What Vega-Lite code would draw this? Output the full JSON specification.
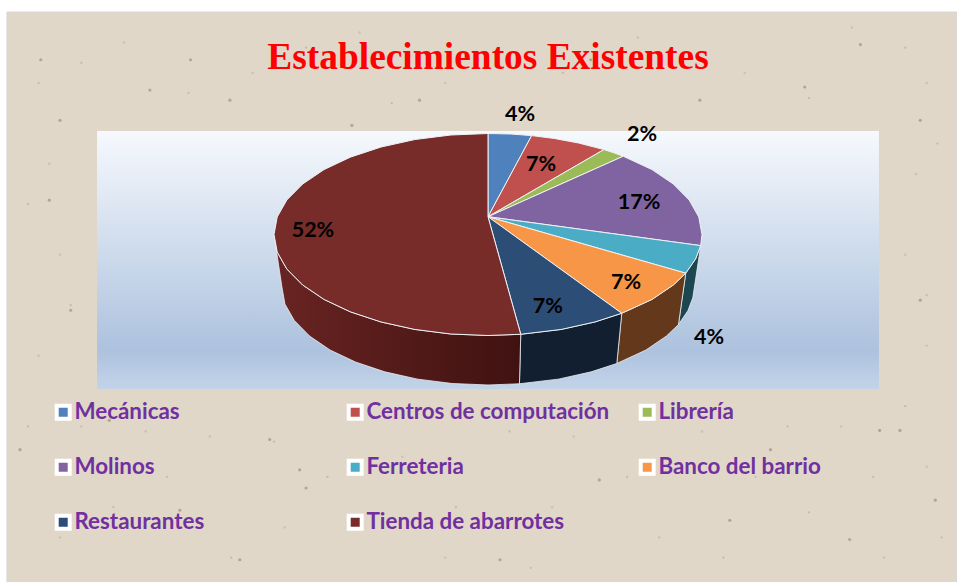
{
"$schema":"https://vega.github.io/schema/vega-lite/v6.json",
"width":957,"height":582,"padding":0,"autosize":{"type":"none"},"background":"#ffffff",
"title":{"text":"Establecimientos Existentes","font":"Liberation Serif","fontSize":37.4,"fontWeight":"bold","color":"#ff0000","anchor":"middle","dx":9.5,"dy":76,"offset":0},
"config":{"view":{"stroke":null}},
"datasets":{
"frame":[{"u":-224.8,"u2":219.16,"v":220.3,"v2":-344.06}],
"panel":[{"u":-182.7,"u2":182.7,"v":102.5,"v2":-153}],
"pale":[{"u":-210,"v":150},{"u":-170,"v":190},{"u":-110,"v":160},{"u":-60,"v":200},{"u":-20,"v":150},{"u":70,"v":195},{"u":120,"v":160},{"u":170,"v":205},{"u":205,"v":150},{"u":200,"v":60},{"u":195,"v":-20},{"u":205,"v":-110},{"u":-205,"v":70},{"u":-200,"v":-20},{"u":-210,"v":-120},{"u":-190,"v":-190},{"u":-150,"v":-240},{"u":-200,"v":-300},{"u":-95,"v":-290},{"u":-40,"v":-220},{"u":-20,"v":-320},{"u":40,"v":-200},{"u":80,"v":-300},{"u":125,"v":-240},{"u":165,"v":-190},{"u":185,"v":-320},{"u":205,"v":-230},{"u":-130,"v":-200},{"u":30,"v":-270},{"u":100,"v":-195}],
"shade":[{"u":-190,"v":170},{"u":-140,"v":140},{"u":-85,"v":185},{"u":-45,"v":130},{"u":35,"v":160},{"u":95,"v":175},{"u":150,"v":135},{"u":195,"v":185},{"u":210,"v":90},{"u":205,"v":-60},{"u":195,"v":-170},{"u":-215,"v":30},{"u":-195,"v":-70},{"u":-215,"v":-190},{"u":-175,"v":-270},{"u":-120,"v":-320},{"u":-75,"v":-240},{"u":-15,"v":-270},{"u":20,"v":-330},{"u":65,"v":-240},{"u":110,"v":-320},{"u":150,"v":-275},{"u":180,"v":-240},{"u":-160,"v":-195},{"u":-100,"v":-205},{"u":10,"v":-195},{"u":140,"v":-190},{"u":212,"v":-300}],
"specks":[{"u":148,"v":146},{"u":-158,"v":143},{"u":-63.6,"v":108},{"u":-209,"v":173},{"u":174,"v":188},{"u":202,"v":113},{"u":202,"v":-65},{"u":192.5,"v":-194},{"u":113,"v":-283},{"u":-88,"v":-233},{"u":-85,"v":-251},{"u":-116,"v":-322},{"u":-144,"v":-273},{"u":-177,"v":-184},{"u":-205,"v":34},{"u":-195,"v":-75},{"u":-200,"v":113},{"u":-120.6,"v":133},{"u":-32,"v":133},{"u":48,"v":173},{"u":99,"v":133},{"u":183,"v":-194},{"u":5.6,"v":-322},{"u":52,"v":-243},{"u":132,"v":-213},{"u":169,"v":-302},{"u":-102,"v":-203},{"u":-139,"v":173},{"u":-218.7,"v":-213},{"u":209,"v":-263}],
"walls":[
{"slice":"Ferreteria","i":0,"u":99.4,"v":-11},{"slice":"Ferreteria","i":1,"u":97,"v":-24.2},{"slice":"Ferreteria","i":2,"u":92.4,"v":-38.3},{"slice":"Ferreteria","i":3,"u":89,"v":-89.2},{"slice":"Ferreteria","i":4,"u":93.4,"v":-75.5},{"slice":"Ferreteria","i":5,"u":95.7,"v":-62.7},{"slice":"Ferreteria","i":6,"u":99.4,"v":-11},
{"slice":"Banco del barrio","i":0,"u":92.4,"v":-38.3},{"slice":"Banco del barrio","i":1,"u":86.6,"v":-50},{"slice":"Banco del barrio","i":2,"u":76.6,"v":-64.3},{"slice":"Banco del barrio","i":3,"u":62.5,"v":-78},{"slice":"Banco del barrio","i":4,"u":60.2,"v":-127.7},{"slice":"Banco del barrio","i":5,"u":73.8,"v":-114.4},{"slice":"Banco del barrio","i":6,"u":83.4,"v":-100.5},{"slice":"Banco del barrio","i":7,"u":89,"v":-89.2},{"slice":"Banco del barrio","i":8,"u":92.4,"v":-38.3},
{"slice":"Restaurantes","i":0,"u":62.5,"v":-78},{"slice":"Restaurantes","i":1,"u":50,"v":-86.6},{"slice":"Restaurantes","i":2,"u":34.2,"v":-94},{"slice":"Restaurantes","i":3,"u":15.3,"v":-98.8},{"slice":"Restaurantes","i":4,"u":14.7,"v":-147.8},{"slice":"Restaurantes","i":5,"u":32.9,"v":-143.2},{"slice":"Restaurantes","i":6,"u":48.2,"v":-136},{"slice":"Restaurantes","i":7,"u":60.2,"v":-127.7},{"slice":"Restaurantes","i":8,"u":62.5,"v":-78},
{"slice":"Tienda de abarrotes","i":0,"u":15.3,"v":-98.8},{"slice":"Tienda de abarrotes","i":1,"u":0,"v":-100},{"slice":"Tienda de abarrotes","i":2,"u":-17.4,"v":-98.5},{"slice":"Tienda de abarrotes","i":3,"u":-34.2,"v":-94},{"slice":"Tienda de abarrotes","i":4,"u":-50,"v":-86.6},{"slice":"Tienda de abarrotes","i":5,"u":-64.3,"v":-76.6},{"slice":"Tienda de abarrotes","i":6,"u":-76.6,"v":-64.3},{"slice":"Tienda de abarrotes","i":7,"u":-86.6,"v":-50},{"slice":"Tienda de abarrotes","i":8,"u":-94,"v":-34.2},{"slice":"Tienda de abarrotes","i":9,"u":-98.5,"v":-17.4},{"slice":"Tienda de abarrotes","i":10,"u":-100,"v":0},{"slice":"Tienda de abarrotes","i":11,"u":-96.3,"v":-52},{"slice":"Tienda de abarrotes","i":12,"u":-94.9,"v":-68.9},{"slice":"Tienda de abarrotes","i":13,"u":-90.5,"v":-85.2},{"slice":"Tienda de abarrotes","i":14,"u":-83.4,"v":-100.5},{"slice":"Tienda de abarrotes","i":15,"u":-73.8,"v":-114.4},{"slice":"Tienda de abarrotes","i":16,"u":-61.9,"v":-126.3},{"slice":"Tienda de abarrotes","i":17,"u":-48.2,"v":-136},{"slice":"Tienda de abarrotes","i":18,"u":-32.9,"v":-143.2},{"slice":"Tienda de abarrotes","i":19,"u":-16.8,"v":-147.5},{"slice":"Tienda de abarrotes","i":20,"u":0,"v":-149},{"slice":"Tienda de abarrotes","i":21,"u":14.7,"v":-147.8},{"slice":"Tienda de abarrotes","i":22,"u":15.3,"v":-98.8}
],
"tops":[
{"slice":"Mecánicas","i":0,"u":0,"v":17.6},{"slice":"Mecánicas","i":1,"u":0,"v":100},{"slice":"Mecánicas","i":2,"u":10.5,"v":99.5},{"slice":"Mecánicas","i":3,"u":20.4,"v":97.9},{"slice":"Mecánicas","i":4,"u":0,"v":17.6},
{"slice":"Centros de computación","i":0,"u":0,"v":17.6},{"slice":"Centros de computación","i":1,"u":20.4,"v":97.9},{"slice":"Centros de computación","i":2,"u":30.9,"v":95.1},{"slice":"Centros de computación","i":3,"u":42.3,"v":90.6},{"slice":"Centros de computación","i":4,"u":54.2,"v":84.1},{"slice":"Centros de computación","i":5,"u":0,"v":17.6},
{"slice":"Librería","i":0,"u":0,"v":17.6},{"slice":"Librería","i":1,"u":54.2,"v":84.1},{"slice":"Librería","i":2,"u":58.8,"v":80.9},{"slice":"Librería","i":3,"u":63.2,"v":77.5},{"slice":"Librería","i":4,"u":0,"v":17.6},
{"slice":"Molinos","i":0,"u":0,"v":17.6},{"slice":"Molinos","i":1,"u":63.2,"v":77.5},{"slice":"Molinos","i":2,"u":76.6,"v":64.3},{"slice":"Molinos","i":3,"u":86.6,"v":50},{"slice":"Molinos","i":4,"u":94,"v":34.2},{"slice":"Molinos","i":5,"u":98.5,"v":17.4},{"slice":"Molinos","i":6,"u":100,"v":0},{"slice":"Molinos","i":7,"u":99.4,"v":-11},{"slice":"Molinos","i":8,"u":0,"v":17.6},
{"slice":"Ferreteria","i":0,"u":0,"v":17.6},{"slice":"Ferreteria","i":1,"u":99.4,"v":-11},{"slice":"Ferreteria","i":2,"u":97,"v":-24.2},{"slice":"Ferreteria","i":3,"u":92.4,"v":-38.3},{"slice":"Ferreteria","i":4,"u":0,"v":17.6},
{"slice":"Banco del barrio","i":0,"u":0,"v":17.6},{"slice":"Banco del barrio","i":1,"u":92.4,"v":-38.3},{"slice":"Banco del barrio","i":2,"u":86.6,"v":-50},{"slice":"Banco del barrio","i":3,"u":76.6,"v":-64.3},{"slice":"Banco del barrio","i":4,"u":62.5,"v":-78},{"slice":"Banco del barrio","i":5,"u":0,"v":17.6},
{"slice":"Restaurantes","i":0,"u":0,"v":17.6},{"slice":"Restaurantes","i":1,"u":62.5,"v":-78},{"slice":"Restaurantes","i":2,"u":50,"v":-86.6},{"slice":"Restaurantes","i":3,"u":34.2,"v":-94},{"slice":"Restaurantes","i":4,"u":15.3,"v":-98.8},{"slice":"Restaurantes","i":5,"u":0,"v":17.6},
{"slice":"Tienda de abarrotes","i":0,"u":0,"v":17.6},{"slice":"Tienda de abarrotes","i":1,"u":15.3,"v":-98.8},{"slice":"Tienda de abarrotes","i":2,"u":0,"v":-100},{"slice":"Tienda de abarrotes","i":3,"u":-17.4,"v":-98.5},{"slice":"Tienda de abarrotes","i":4,"u":-34.2,"v":-94},{"slice":"Tienda de abarrotes","i":5,"u":-50,"v":-86.6},{"slice":"Tienda de abarrotes","i":6,"u":-64.3,"v":-76.6},{"slice":"Tienda de abarrotes","i":7,"u":-76.6,"v":-64.3},{"slice":"Tienda de abarrotes","i":8,"u":-86.6,"v":-50},{"slice":"Tienda de abarrotes","i":9,"u":-94,"v":-34.2},{"slice":"Tienda de abarrotes","i":10,"u":-98.5,"v":-17.4},{"slice":"Tienda de abarrotes","i":11,"u":-100,"v":0},{"slice":"Tienda de abarrotes","i":12,"u":-98.5,"v":17.4},{"slice":"Tienda de abarrotes","i":13,"u":-94,"v":34.2},{"slice":"Tienda de abarrotes","i":14,"u":-86.6,"v":50},{"slice":"Tienda de abarrotes","i":15,"u":-76.6,"v":64.3},{"slice":"Tienda de abarrotes","i":16,"u":-64.3,"v":76.6},{"slice":"Tienda de abarrotes","i":17,"u":-50,"v":86.6},{"slice":"Tienda de abarrotes","i":18,"u":-34.2,"v":94},{"slice":"Tienda de abarrotes","i":19,"u":-17.4,"v":98.5},{"slice":"Tienda de abarrotes","i":20,"u":0,"v":100},{"slice":"Tienda de abarrotes","i":21,"u":0,"v":17.6}
],
"labels":[{"label":"4%","u":15,"v":118.3},{"label":"7%","u":24.8,"v":68.8},{"label":"2%","u":72,"v":98.5},{"label":"17%","u":70.6,"v":31.2},{"label":"4%","u":103.3,"v":-102.5},{"label":"7%","u":64.5,"v":-48},{"label":"7%","u":28,"v":-71.8},{"label":"52%","u":-81.8,"v":3.5}]
},
"encoding":{
"x":{"field":"u","type":"quantitative","axis":null,"scale":{"domain":[-228.04,219.16],"nice":false,"zero":false}},
"y":{"field":"v","type":"quantitative","axis":null,"scale":{"domain":[-344.06,232.18],"nice":false,"zero":false}}
},
"layer":[
{"data":{"name":"frame"},"mark":{"type":"rect","fill":"#e0d7c9","stroke":"#d8d8d8","strokeWidth":1},"encoding":{"x2":{"field":"u2"},"y2":{"field":"v2"}}},
{"data":{"name":"pale"},"mark":{"type":"point","filled":true,"color":"#b9ae9b","opacity":0.5,"size":6},"encoding":{}},
{"data":{"name":"shade"},"mark":{"type":"point","filled":true,"color":"#a89d8a","opacity":0.5,"size":5},"encoding":{}},
{"data":{"name":"specks"},"mark":{"type":"point","filled":true,"color":"#8f8573","opacity":0.6,"size":10},"encoding":{}},
{"data":{"name":"panel"},"mark":{"type":"rect","fill":{"gradient":"linear","x1":0,"y1":0,"x2":0,"y2":1,"stops":[{"offset":0,"color":"#f6f9fd"},{"offset":0.85,"color":"#adc2de"},{"offset":1,"color":"#c3d4e9"}]}},"encoding":{"x2":{"field":"u2"},"y2":{"field":"v2"}}},
{"data":{"name":"walls"},"transform":[{"filter":"datum.slice==='Ferreteria'"}],"mark":{"type":"line","fill":"#1c4650","stroke":"#e8edf3","strokeWidth":0.8},"encoding":{"order":{"field":"i"}}},
{"data":{"name":"walls"},"transform":[{"filter":"datum.slice==='Banco del barrio'"}],"mark":{"type":"line","fill":"#63381b","stroke":"#e8edf3","strokeWidth":0.8},"encoding":{"order":{"field":"i"}}},
{"data":{"name":"walls"},"transform":[{"filter":"datum.slice==='Restaurantes'"}],"mark":{"type":"line","fill":"#111f30","stroke":"#e8edf3","strokeWidth":0.8},"encoding":{"order":{"field":"i"}}},
{"data":{"name":"walls"},"transform":[{"filter":"datum.slice==='Tienda de abarrotes'"}],"mark":{"type":"line","fill":{"gradient":"linear","x1":0,"y1":0,"x2":1,"y2":0,"stops":[{"offset":0,"color":"#692422"},{"offset":1,"color":"#3f1211"}]},"stroke":"#e8edf3","strokeWidth":0.8},"encoding":{"order":{"field":"i"}}},
{"data":{"name":"tops"},"mark":{"type":"line","stroke":"#f0f2f5","strokeWidth":1},"encoding":{"order":{"field":"i"},
"fill":{"field":"slice","type":"nominal","scale":{"domain":["Mecánicas","Centros de computación","Librería","Molinos","Ferreteria","Banco del barrio","Restaurantes","Tienda de abarrotes"],"range":["#4f81bd","#c0504d","#9bbb59","#8064a2","#4bacc6","#f79646","#2c4d75","#772c2a"]},
"legend":{"title":null,"orient":"none","legendX":52,"legendY":401,"direction":"horizontal","columns":3,"gridAlign":"all","symbolType":"square","symbolSize":169,"symbolStrokeColor":"#ffffff","symbolStrokeWidth":4,"symbolOpacity":1,"labelFont":"Lato","labelFontSize":22.4,"labelFontWeight":"bold","labelColor":"#7030a0","labelLimit":300,"labelOffset":0,"rowPadding":25,"columnPadding":22}}}},
{"data":{"name":"labels"},"mark":{"type":"text","font":"Lato","fontSize":21.5,"fontWeight":"bold","color":"#000000","align":"center","baseline":"middle"},"encoding":{"text":{"field":"label"}}}
]
}
